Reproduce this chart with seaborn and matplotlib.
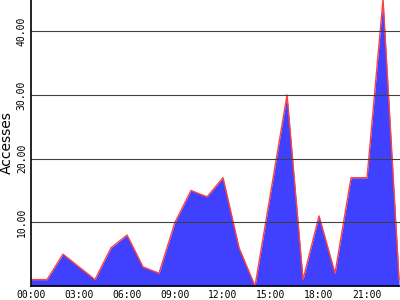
import matplotlib
matplotlib.use("Agg")
import matplotlib.pyplot as plt
import seaborn as sns
import pandas as pd

hours = list(range(24))
accesses = [1, 1, 5, 3, 1, 6, 8, 3, 2, 10, 15, 14, 17, 6, 0, 15, 30, 1, 11, 2, 17, 17, 45, 1]
tick_hours = [0, 3, 6, 9, 12, 15, 18, 21]
tick_labels = ["00:00", "03:00", "06:00", "09:00", "12:00", "15:00", "18:00", "21:00"]
y_ticks = [10, 20, 30, 40]

df = pd.DataFrame({"hour": hours, "accesses": accesses})

sns.set_style("white")
plt.rcParams["font.family"] = ["DejaVu Sans"]

fig = plt.figure(figsize=(4, 3), dpi=100)
ax = fig.add_axes([31 / 400, 14 / 300, 369 / 400, 286 / 300])

ax.fill_between(df["hour"], df["accesses"], 0, color="#4040ff", linewidth=0, zorder=2)
sns.lineplot(data=df, x="hour", y="accesses", ax=ax, color="#ff4040", linewidth=1, zorder=3)

for v in y_ticks:
    ax.axhline(v, color="#404040", linewidth=0.8, zorder=4)

ax.set_xlim(0, 23.06)
ax.set_ylim(0, 44.9)
ax.set_xticks(tick_hours)
ax.set_xticklabels(tick_labels, family="DejaVu Sans Mono", fontsize=7, color="black")
ax.set_yticks(y_ticks)
ax.set_yticklabels([f"{v:.2f}" for v in y_ticks], family="DejaVu Sans Mono", fontsize=7,
                   rotation=90, va="center", color="black")
ax.tick_params(axis="both", length=0, pad=3)
ax.set_xlabel("")
ax.set_ylabel("Accesses", fontsize=10, color="black")
ax.yaxis.set_label_coords(-0.046, 0.5)

for s in ["top", "right"]:
    ax.spines[s].set_visible(False)
for s in ["left", "bottom"]:
    ax.spines[s].set_color("black")
    ax.spines[s].set_linewidth(1.2)
    ax.spines[s].set_zorder(5)

fig.savefig("out.png", dpi=100)
